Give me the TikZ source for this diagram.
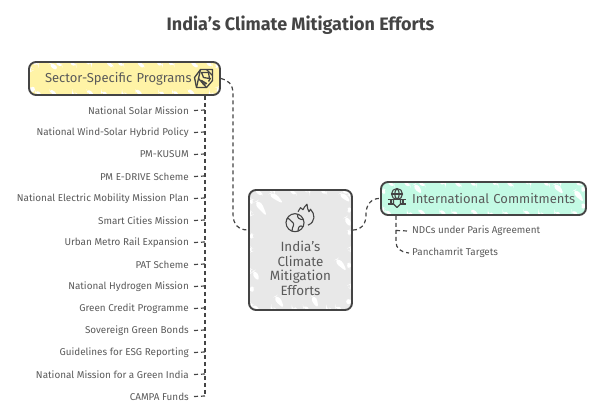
\documentclass[tikz,border=0pt]{standalone}
\usepackage{fontspec}
\setmainfont{Fira Sans}
\usetikzlibrary{calc}
\definecolor{ink}{HTML}{444444}
\definecolor{txt}{HTML}{5A5A5A}
\definecolor{yel}{HTML}{FFF3A6}
\definecolor{mint}{HTML}{C3FAE4}
\definecolor{gry}{HTML}{E8E8E8}
\tikzset{
 x=1pt,y=-1pt,
 wedges/.style 2 args={path picture={
   \path (path picture bounding box.north west) coordinate (pnw);
   \path (path picture bounding box.south east) coordinate (pse);
   \pgfmathsetseed{#1}
   \foreach \s in {0,...,14}{
     \pgfmathsetmacro{\r}{rnd}
     \pgfmathsetmacro{\q}{rnd}
     % top edge
     \fill[white] ($(pnw)+(\s*17+\r*7,-1)$) -- ++(9,0) -- ++(-1+3*\q,5+5*\q) -- cycle;
     % bottom edge
     \fill[white] ($(pse)+(-\s*17-\q*8,1)$) -- ++(-9,0) -- ++(1-3*\r,-5-5*\r) -- cycle;
     % left edge
     \fill[white] ($(pnw)+(-1,\s*18+\q*8)$) -- ++(0,9) -- ++(6+5*\r,-3-3*\q) -- cycle;
     % right edge
     \fill[white] ($(pse)+(1,-\s*18-\r*8)$) -- ++(0,-9) -- ++(-6-5*\q,3+3*\r) -- cycle;
   }
   \foreach \ax/\ay/\bx/\by in {#2}{
     \fill[white] ($(pnw)+(\ax,\ay)$) -- ($(pnw)+(\ax+7,\ay-4)$) -- ($(pnw)+(\bx,\by)$) -- cycle;
   }
 }},
 boxshape/.style={draw=ink,line width=1.9pt,rounded corners=7pt,fill=#1,inner sep=0pt,text=txt},
 head/.style={boxshape=#1,minimum height=33pt,font=\fontsize{13}{15}\selectfont,align=left},
 leaf/.style={text=txt,font=\fontsize{9.9}{11}\selectfont,inner sep=0pt},
 link/.style={draw=ink,line width=1.2pt,dash pattern=on 4pt off 3pt},
 trunk/.style={draw=ink,line width=1.7pt,dash pattern=on 4pt off 3pt},
 icon/.style={draw=ink,line width=1.1pt,fill=none,line join=round},
}
\begin{document}
\begin{tikzpicture}
\useasboundingbox (0,0) rectangle (601,409);
\node[text=ink,font=\bfseries\fontsize{18}{20}\selectfont] (title) at (300.5,25) {India's Climate Mitigation Efforts};

% boxes
\node[head=yel,wedges={3}{18/3/30/10},text width=191pt,minimum width=191pt] (sector) at (124.5,78.5) {\hspace*{16pt}Sector-Specific Programs};
\node[head=mint,wedges={8}{30/4/42/14, 170/4/184/14, 190/10/204/22},text width=205pt,minimum width=205pt] (intl) at (483.5,198.5) {\hspace*{31pt}International Commitments};
\node[boxshape=gry,wedges={5}{4/13/19/28, 18/5/36/15, 84/71/99/83, 23/108/36/120, 93/29/103/39, 60/108/70/120, 1/83/11/93, 88/5/103/14},minimum width=103pt,minimum height=120pt,align=center,font=\fontsize{13.4}{14.6}\selectfont] (core) at (300.5,250)
 {\rule{0pt}{47pt}India's\\Climate\\Mitigation\\Efforts};

% leaves
\foreach \n/\t [count=\i from 0] in {
 a/National Solar Mission,
 b/National Wind-Solar Hybrid Policy,
 c/PM-KUSUM,
 d/PM E-DRIVE Scheme,
 e/National Electric Mobility Mission Plan,
 f/Smart Cities Mission,
 g/Urban Metro Rail Expansion,
 h/PAT Scheme,
 i/National Hydrogen Mission,
 j/Green Credit Programme,
 k/Sovereign Green Bonds,
 l/Guidelines for ESG Reporting,
 m/National Mission for a Green India,
 n/CAMPA Funds}{
  \node[leaf,anchor=east] (\n) at (189,110.5+22*\i) {\t};
  \coordinate (t\n) at (205,110+22*\i);
  \draw[link] ($(\n.east)+(5,0)$) -- (t\n);
}
\draw[trunk] (sector.south -| tn) -- (tn);

\node[leaf,anchor=west] (ndc) at (412,231) {NDCs under Paris Agreement};
\node[leaf,anchor=west] (pan) at (412,253) {Panchamrit Targets};
\coordinate (ti) at (396,230.5);
\draw[link] (ti) -- ($(ndc.west)+(-4,0)$);
\draw[link] (intl.south -| ti) -- (396,242) .. controls (396,248) and (400,252) .. ($(pan.west)+(-3,0)$);

% connectors
\draw[link] (sector.east) .. controls (228,80) and (233,84) .. (233,94) -- (233,214) .. controls (233,224) and (238,230) .. (core.west |- 0,230);
\draw[link] (core.east |- 0,230) .. controls (362,230) and (366,224) .. (366,214) .. controls (366,204) and (372,198) .. (intl.west);

% icon: globe with flame (centre)
\begin{scope}[icon,shift={(295,222.7)}]
 \draw (0,0) circle (9);
 \draw (-8,-4) .. controls (-5,-5) and (-5,-1) .. (-2,0) .. controls (0,2) and (-3,4) .. (-3,8.5);
 \draw (3,-8.5) .. controls (1,-5) and (5,-3) .. (8.5,-3);
 \draw (8,4) .. controls (5,2) and (3,4) .. (3,8.5);
 \draw (3,-11) -- (5.5,-15) -- (8,-13) .. controls (9,-15) and (10,-17) .. (12,-18.5) .. controls (12,-15) and (13,-13) .. (14,-11) .. controls (15,-12) and (15,-13) .. (15.5,-13.5) .. controls (20,-9) and (21,-1) .. (13,2.5);
\end{scope}
% icon: sector cube
\begin{scope}[icon,shift={(203.5,78.5)},line width=1.3pt]
 \draw (-9,-1) -- (-3,-9) -- (9,-9) -- (9,2) -- (3,9) -- (-7,9) -- cycle;
 \draw (-3,-9) -- (-5,0) -- (-7,9);
 \draw (-5,0) -- (3,9);
 \draw (3,-9) -- (9,-3);
 \draw (-2,-6) -- (0,-1) -- (6,0) -- (5,-6) -- cycle;
 \draw (-2,2) -- (3,5) -- (0,6) -- cycle;
 \draw (5,3) -- (7,-0.5);
\end{scope}
% icon: international
\begin{scope}[icon,shift={(397,198.5)}]
 \draw (0,-4.5) circle (5.5);
 \draw (-5.5,-4.5) -- (5.5,-4.5);
 \draw (0,-10) .. controls (-3,-7) and (-3,-2) .. (0,1);
 \draw (0,-10) .. controls (3,-7) and (3,-2) .. (0,1);
 \draw (-9,1) -- (9,1);
 \draw (-9,5.5) -- (-3,5.5) (3,5.5) -- (9,5.5);
 \draw (-6,1) -- (-6,5.5) (6,1) -- (6,5.5);
 \draw (-3.5,1) -- (-3.5,5.5) -- (0,9) -- (3.5,5.5) -- (3.5,1);
\end{scope}
\end{tikzpicture}
\end{document}
